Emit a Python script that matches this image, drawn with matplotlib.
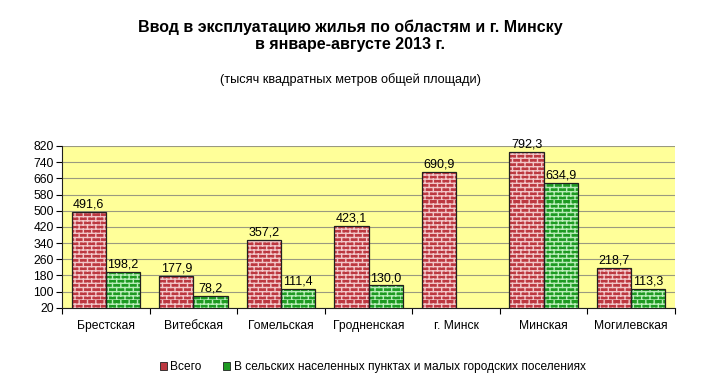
import numpy as np
import matplotlib
matplotlib.use("Agg")
import matplotlib.pyplot as plt
import matplotlib.hatch as mhatch
from matplotlib.path import Path
from matplotlib.patches import Rectangle

categories = ["Брестская", "Витебская", "Гомельская", "Гродненская",
              "г. Минск", "Минская", "Могилевская"]
total = [491.6, 177.9, 357.2, 423.1, 690.9, 792.3, 218.7]
rural = [198.2, 78.2, 111.4, 130.0, np.nan, 634.9, 113.3]
series_names = ["Всего", "В сельских населенных пунктах и малых городских поселениях"]
yticks = list(range(20, 821, 80))


class BrickHatch(mhatch.HatchPatternBase):
    def __init__(self, hatch, density):
        self.rows = hatch.count('+') * density
        self.cols = self.rows // 2
        self.num_vertices = self.rows * 2 + self.rows * self.cols * 2

    def set_vertices_and_codes(self, vertices, codes):
        rows, cols = self.rows, self.cols
        h = 1.0 / rows
        i = 0
        for r in range(rows):
            y = r * h
            vertices[i] = (0.0, y); codes[i] = Path.MOVETO; i += 1
            vertices[i] = (1.0, y); codes[i] = Path.LINETO; i += 1
        for r in range(rows):
            y0 = r * h
            off = 0.0 if r % 2 == 0 else 0.5
            for c in range(cols):
                x = (c + off) / cols
                vertices[i] = (x, y0); codes[i] = Path.MOVETO; i += 1
                vertices[i] = (x, y0 + h); codes[i] = Path.LINETO; i += 1


mhatch._hatch_types = [BrickHatch]
plt.rcParams['hatch.linewidth'] = 1.0
plt.rcParams['font.family'] = ['Liberation Sans', 'DejaVu Sans']

red, red_m = '#BC3840', '#F2C6C8'
green, green_m = '#1E9A22', '#B9EDB9'

fig = plt.figure(figsize=(7.10, 3.87), dpi=100)
ax = fig.add_axes([62/710, 1 - 307.7/387, 613/710, 161.7/387])
ax.set_facecolor('#FFFF99')

x = np.arange(len(categories))
w = 0.39

def draw(xs, vals, face, mortar):
    ax.bar(xs, vals, w, color=face, edgecolor=mortar, linewidth=0,
           hatch='++++', zorder=3)
    ax.bar(xs, vals, w, fill=False, edgecolor='#202020', linewidth=0.9,
           zorder=4)

draw(x - w/2, total, red, red_m)
draw(x + w/2, rural, green, green_m)

for xi, v in zip(x - w/2, total):
    ax.text(xi, v + 7, f"{v:.1f}".replace('.', ','), ha='center', va='bottom',
            fontsize=9, zorder=5)
for xi, v in zip(x + w/2, rural):
    if not np.isnan(v):
        ax.text(xi, v + 7, f"{v:.1f}".replace('.', ','), ha='center',
                va='bottom', fontsize=9, zorder=5)

ax.set_ylim(20, 820)
ax.set_xlim(-0.5, len(categories) - 0.5)
ax.set_yticks(yticks)
ax.set_yticklabels([str(t) for t in yticks], fontsize=8.7)
ax.yaxis.grid(True, color='#9A9A80', linewidth=0.8, zorder=0)
ax.set_axisbelow(True)
ax.tick_params(axis='y', length=4, width=0.8, pad=2)

ax.set_xticks(x)
ax.set_xticklabels(categories, fontsize=8.7)
ax.tick_params(axis='x', length=0, pad=9)
ax.set_xticks(np.arange(-0.5, len(categories), 1.0), minor=True)
ax.tick_params(axis='x', which='minor', length=4, width=0.8)

for s in ['top', 'right']:
    ax.spines[s].set_visible(False)
ax.spines['left'].set_color('#202020')
ax.spines['bottom'].set_color('#202020')

fig.text(0.493, 1 - 27/387, "Ввод в эксплуатацию жилья по областям и г. Минску",
         ha='center', va='center', fontsize=11.5, fontweight='bold')
fig.text(0.493, 1 - 44/387, "в январе-августе 2013 г.",
         ha='center', va='center', fontsize=11.5, fontweight='bold')
fig.text(0.493, 1 - 80/387, "(тысяч квадратных метров общей площади)",
         ha='center', va='center', fontsize=9.2)

handles = [Rectangle((0, 0), 1, 1, facecolor=red, edgecolor='#202020', linewidth=0.6),
           Rectangle((0, 0), 1, 1, facecolor=green, edgecolor='#202020', linewidth=0.6)]
fig.legend(handles, series_names, loc='center', bbox_to_anchor=(0.525, 1 - 367/387),
           ncol=2, frameon=False, fontsize=8.6, handlelength=0.6, handleheight=0.6,
           handletextpad=0.3, columnspacing=1.8)

fig.savefig("out.png", dpi=100)
